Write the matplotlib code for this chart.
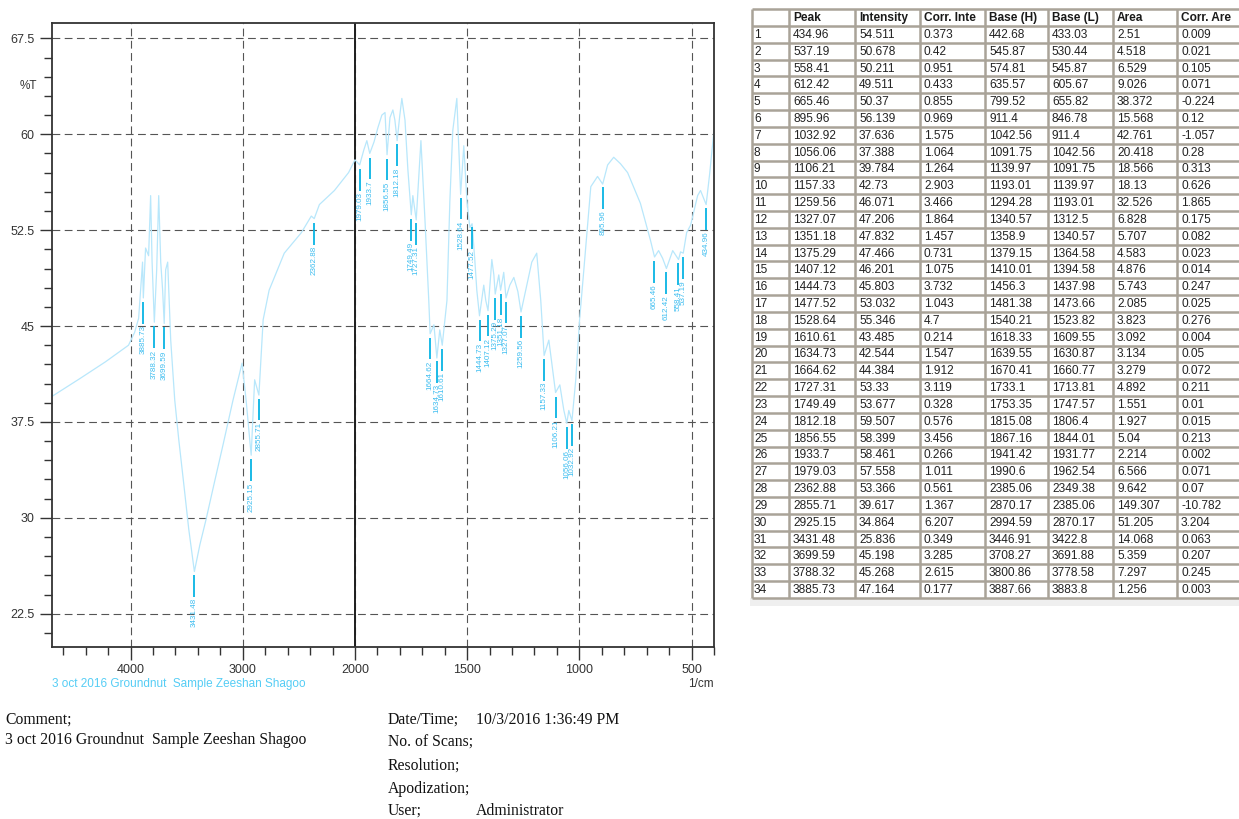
import numpy as np
import matplotlib
matplotlib.use("Agg")
import matplotlib.pyplot as plt
from matplotlib.patches import Rectangle
from matplotlib.ticker import FixedLocator, FuncFormatter

# ---- spectrum trace (wavenumber in 1/cm, transmittance in %T) ----
wavenumber = [
    4700, 4450, 4224, 4018, 3964, 3928, 3906, 3893, 3886, 3866,
    3839, 3821, 3808, 3788, 3767, 3749, 3731, 3714, 3700, 3687,
    3669, 3642, 3606, 3570, 3525, 3481, 3431, 3382, 3329, 3257,
    3176, 3087, 3006, 2970, 2925, 2894, 2856, 2818, 2765, 2630,
    2478, 2389, 2363, 2317, 2183, 2057, 2000, 1979, 1960, 1947,
    1934, 1915, 1898, 1880, 1866, 1857, 1844, 1831, 1822, 1812,
    1800, 1791, 1777, 1764, 1749, 1742, 1727, 1706, 1688, 1671,
    1665, 1648, 1635, 1622, 1611, 1590, 1577, 1564, 1546, 1537,
    1529, 1515, 1501, 1488, 1478, 1466, 1457, 1445, 1426, 1417,
    1407, 1390, 1381, 1375, 1359, 1351, 1337, 1327, 1310, 1292,
    1274, 1260, 1234, 1212, 1190, 1172, 1157, 1136, 1119, 1106,
    1087, 1069, 1056, 1047, 1033, 1016, 999, 980, 949, 919,
    896, 874, 847, 817, 785, 728, 683, 665, 647, 629,
    612, 584, 558, 549, 537, 522, 504, 473, 460, 435,
    420, 400,
]
transmittance = [
    39.5, 40.9, 42.2, 43.5, 44.5, 45.6, 48.4, 50.0, 47.2, 51.1,
    50.5, 55.2, 50.0, 45.3, 49.4, 55.2, 50.0, 47.8, 45.2, 49.4,
    50.0, 43.9, 39.2, 36.1, 32.6, 29.1, 25.8, 27.9, 29.8, 32.6,
    35.7, 39.2, 42.1, 39.2, 34.9, 40.8, 39.6, 45.5, 47.8, 50.7,
    52.3, 53.6, 53.4, 54.5, 55.6, 57.0, 58.0, 57.6, 58.8, 59.5,
    58.5, 59.4, 60.5, 61.5, 61.7, 58.4, 61.3, 61.9, 61.1, 59.5,
    61.5, 62.8, 61.1, 57.2, 53.7, 55.2, 53.3, 59.5, 53.3, 47.0,
    44.4, 45.1, 42.5, 44.7, 43.5, 47.0, 54.8, 60.3, 62.8, 58.8,
    55.3, 59.1, 54.8, 52.7, 53.0, 50.2, 47.8, 45.8, 48.2, 47.0,
    46.2, 50.2, 49.0, 47.5, 49.0, 47.8, 49.2, 47.2, 48.2, 48.8,
    47.7, 46.1, 48.2, 50.0, 50.7, 47.0, 42.7, 43.9, 41.6, 39.8,
    40.4, 38.4, 37.4, 38.4, 37.6, 40.8, 45.5, 49.4, 55.9, 56.7,
    56.1, 57.6, 58.2, 57.7, 57.0, 54.6, 51.7, 50.4, 50.9, 50.3,
    49.5, 50.9, 50.2, 50.8, 50.7, 52.3, 52.9, 55.2, 55.6, 54.5,
    56.8, 60.3,
]

# ---- peak table ----
peak = [434.96, 537.19, 558.41, 612.42, 665.46, 895.96, 1032.92, 1056.06,
        1106.21, 1157.33, 1259.56, 1327.07, 1351.18, 1375.29, 1407.12,
        1444.73, 1477.52, 1528.64, 1610.61, 1634.73, 1664.62, 1727.31,
        1749.49, 1812.18, 1856.55, 1933.7, 1979.03, 2362.88, 2855.71,
        2925.15, 3431.48, 3699.59, 3788.32, 3885.73]
intensity = [54.511, 50.678, 50.211, 49.511, 50.37, 56.139, 37.636, 37.388,
             39.784, 42.73, 46.071, 47.206, 47.832, 47.466, 46.201, 45.803,
             53.032, 55.346, 43.485, 42.544, 44.384, 53.33, 53.677, 59.507,
             58.399, 58.461, 57.558, 53.366, 39.617, 34.864, 25.836, 45.198,
             45.268, 47.164]
corr_int = [0.373, 0.42, 0.951, 0.433, 0.855, 0.969, 1.575, 1.064, 1.264,
            2.903, 3.466, 1.864, 1.457, 0.731, 1.075, 3.732, 1.043, 4.7,
            0.214, 1.547, 1.912, 3.119, 0.328, 0.576, 3.456, 0.266, 1.011,
            0.561, 1.367, 6.207, 0.349, 3.285, 2.615, 0.177]
base_h = [442.68, 545.87, 574.81, 635.57, 799.52, 911.4, 1042.56, 1091.75,
          1139.97, 1193.01, 1294.28, 1340.57, 1358.9, 1379.15, 1410.01,
          1456.3, 1481.38, 1540.21, 1618.33, 1639.55, 1670.41, 1733.1,
          1753.35, 1815.08, 1867.16, 1941.42, 1990.6, 2385.06, 2870.17,
          2994.59, 3446.91, 3708.27, 3800.86, 3887.66]
base_l = [433.03, 530.44, 545.87, 605.67, 655.82, 846.78, 911.4, 1042.56,
          1091.75, 1139.97, 1193.01, 1312.5, 1340.57, 1364.58, 1394.58,
          1437.98, 1473.66, 1523.82, 1609.55, 1630.87, 1660.77, 1713.81,
          1747.57, 1806.4, 1844.01, 1931.77, 1962.54, 2349.38, 2385.06,
          2870.17, 3422.8, 3691.88, 3778.58, 3883.8]
area = [2.51, 4.518, 6.529, 9.026, 38.372, 15.568, 42.761, 20.418, 18.566,
        18.13, 32.526, 6.828, 5.707, 4.583, 4.876, 5.743, 2.085, 3.823,
        3.092, 3.134, 3.279, 4.892, 1.551, 1.927, 5.04, 2.214, 6.566, 9.642,
        149.307, 51.205, 14.068, 5.359, 7.297, 1.256]
corr_area = [0.009, 0.021, 0.105, 0.071, -0.224, 0.12, -1.057, 0.28, 0.313,
             0.626, 1.865, 0.175, 0.082, 0.023, 0.014, 0.247, 0.025, 0.276,
             0.004, 0.05, 0.072, 0.211, 0.01, 0.015, 0.213, 0.002, 0.071,
             0.07, -10.782, 3.204, 0.063, 0.207, 0.245, 0.003]
table_header = ["", "Peak", "Intensity", "Corr. Inte", "Base (H)", "Base (L)",
                "Area", "Corr. Are"]

x_major = [4000, 3000, 2000, 1500, 1000, 500]
y_major = [22.5, 30, 37.5, 45, 52.5, 60, 67.5]
sample_name = "3 oct 2016 Groundnut  Sample Zeeshan Shagoo"

W, H = 1239, 819
fig = plt.figure(figsize=(W / 100, H / 100), dpi=100)
fig.patch.set_facecolor("white")
sans = ["Liberation Sans", "DejaVu Sans"]
serif = ["Liberation Serif", "DejaVu Serif"]


def px(x0, y0, w, h):
    return [x0 / W, 1 - (y0 + h) / H, w / W, h / H]


ax = fig.add_axes(px(52, 23, 662, 624))


# wavenumber axis: above 2000 1/cm drawn at half scale
def fwd(w):
    w = np.asarray(w, dtype=float)
    return np.where(w > 2000, 2000 + (w - 2000) / 2.0, w)


def inv(u):
    u = np.asarray(u, dtype=float)
    return np.where(u > 2000, 2000 + (u - 2000) * 2.0, u)


ax.set_xscale("function", functions=(fwd, inv))
ax.set_xlim(4700, 400)
ax.set_ylim(19.9, 68.7)

x_minor = [w for w in list(range(4600, 2000, -200)) + list(range(1900, 399, -100))
           if w not in x_major]
y_minor = [v for v in np.arange(21, 68, 1.5) if round(v, 1) not in y_major]
ax.xaxis.set_major_locator(FixedLocator(x_major))
ax.xaxis.set_minor_locator(FixedLocator(x_minor))
ax.yaxis.set_major_locator(FixedLocator(y_major))
ax.yaxis.set_minor_locator(FixedLocator(y_minor))
ax.xaxis.set_major_formatter(FuncFormatter(lambda v, p: f"{v:g}"))
ax.yaxis.set_major_formatter(FuncFormatter(lambda v, p: f"{v:g}"))
ax.xaxis.set_minor_formatter(FuncFormatter(lambda v, p: ""))

ax.tick_params(which="both", direction="out", color="#333333", width=1.0,
               labelsize=9, labelcolor="#333333")
ax.tick_params(which="major", length=9)
ax.tick_params(which="minor", length=6)
for lab in ax.get_xticklabels() + ax.get_yticklabels():
    lab.set_family(sans)
for sp in ax.spines.values():
    sp.set_color("#333333")
    sp.set_linewidth(1.3)

ax.grid(True, which="major", color="#555555", linewidth=0.8,
        linestyle=(0, (7, 4)))
ax.set_axisbelow(True)
ax.axvline(2000, color="#1e1e1e", linewidth=1.4, zorder=1.5)

# spectrum
ax.plot(wavenumber, transmittance, color="#b8e7fb", linewidth=0.9, zorder=2)

# peak picks: leader line below each minimum and its wavenumber
for p, t in zip(peak, intensity):
    ax.plot([p, p], [t - 0.3, t - 2.0], color="#08b4e4", linewidth=1.3,
            zorder=3, solid_capstyle="butt")
    ax.text(p, t - 2.1, f"{p:g}", rotation=90, ha="center", va="top",
            fontsize=5.8, color="#3cbdf0", family=sans, zorder=3)

fig.text(28 / W, 1 - 86 / H, "%T", fontsize=8.5, color="#333333",
         family=sans, ha="center", va="center")
fig.text(52 / W, 1 - 684 / H, sample_name, fontsize=8.5, color="#55cdf5",
         family=sans, ha="left", va="center")
fig.text(714 / W, 1 - 684 / H, "1/cm", fontsize=8.5, color="#333333",
         family=sans, ha="right", va="center")

# footer information
foot = dict(fontsize=11.3, color="#111111", family=serif, va="center")
fig.text(5 / W, 1 - 720 / H, "Comment;", ha="left", **foot)
fig.text(5 / W, 1 - 740 / H, sample_name, ha="left", **foot)
fig.text(388 / W, 1 - 720 / H, "Date/Time;", ha="left", **foot)
fig.text(476 / W, 1 - 720 / H, "10/3/2016 1:36:49 PM", ha="left", **foot)
fig.text(388 / W, 1 - 743 / H, "No. of Scans;", ha="left", **foot)
fig.text(388 / W, 1 - 766 / H, "Resolution;", ha="left", **foot)
fig.text(388 / W, 1 - 789 / H, "Apodization;", ha="left", **foot)
fig.text(388 / W, 1 - 811 / H, "User;", ha="left", **foot)
fig.text(476 / W, 1 - 811 / H, "Administrator", ha="left", **foot)

# ---- peak table ----
tab = fig.add_axes([0, 0, 1, 1])
tab.set_xlim(0, W)
tab.set_ylim(H, 0)
tab.axis("off")

col_edges = [752, 789, 855, 920, 985, 1048, 1113, 1177, 1242]
row_top, head_h, row_h = 9, 17, 16.82
columns = [list(range(1, len(peak) + 1)), peak, intensity, corr_int,
           base_h, base_l, area, corr_area]
n_rows = len(peak)
bottom = row_top + head_h + n_rows * row_h

tab.add_patch(Rectangle((750, bottom), W - 750, 8, facecolor="#efefef",
                        edgecolor="none"))
line_c = "#a9a398"
ys = [row_top, row_top + head_h] + [row_top + head_h + (i + 1) * row_h
                                    for i in range(n_rows)]
for y in ys:
    tab.plot([col_edges[0], col_edges[-1]], [y, y], color=line_c,
             linewidth=1.8, solid_capstyle="butt")
for x in col_edges:
    tab.plot([x, x], [row_top, bottom], color=line_c, linewidth=1.8,
             solid_capstyle="butt")

for c, name in enumerate(table_header):
    tab.text(col_edges[c] + 4, row_top + head_h / 2 + 0.5, name,
             fontsize=8.6, fontweight="bold", family=sans, color="#1a1a1a",
             ha="left", va="center", clip_on=False)
for c, col in enumerate(columns):
    pad = 2 if c == 0 else 4
    for r, val in enumerate(col):
        yc = row_top + head_h + (r + 0.5) * row_h + 0.5
        tab.text(col_edges[c] + pad, yc, str(val), fontsize=8.6,
                 family=sans, color="#222222", ha="left", va="center")

fig.savefig("out.png", dpi=100, facecolor="white")
